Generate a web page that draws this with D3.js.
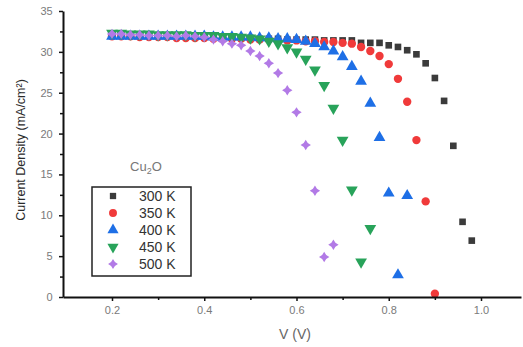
<!DOCTYPE html>
<html><head><meta charset="utf-8">
<script src="https://cdn.jsdelivr.net/npm/d3@7"></script>
<style>body{margin:0;background:#fff}svg{display:block}</style>
</head><body>
<svg id="c" width="523" height="347"></svg>
<script>
const seriesNames = ["300 K","350 K","400 K","450 K","500 K"];
const volts = [0.20,0.22,0.24,0.26,0.28,0.30,0.32,0.34,0.36,0.38,0.40,0.42,0.44,0.46,0.48,0.50,0.52,0.54,0.56,0.58,0.60,0.62,0.64,0.66,0.68,0.70,0.72,0.74,0.76,0.78,0.80,0.82,0.84,0.86,0.88,0.90,0.92,0.94,0.96,0.98];
const j300 = [32.1,32.1,32.0,32.0,32.0,31.9,31.9,31.9,31.9,31.8,31.8,31.8,31.7,31.7,31.7,31.7,31.6,31.6,31.6,31.5,31.5,31.5,31.5,31.4,31.4,31.4,31.4,31.1,31.1,31.1,30.8,30.6,30.2,29.7,28.6,26.8,24.0,18.5,9.2,6.9];
const j350 = [31.9,31.9,31.9,31.8,31.8,31.8,31.8,31.7,31.7,31.7,31.7,31.6,31.6,31.6,31.6,31.5,31.5,31.5,31.4,31.4,31.4,31.3,31.3,31.2,31.2,31.1,31.0,30.6,30.1,29.5,28.5,26.7,23.9,19.2,11.7,0.4];
const j400 = [31.9,31.9,31.9,31.9,31.9,31.9,31.9,31.9,31.9,31.9,31.9,31.8,31.8,31.8,31.8,31.8,31.7,31.7,31.6,31.6,31.5,31.3,31.0,30.6,30.1,29.4,28.2,26.4,23.7,19.5,12.7,2.7,12.4];
const j450 = [32.3,32.3,32.2,32.2,32.2,32.1,32.1,32.1,32.1,32.0,32.0,32.0,31.9,31.9,31.8,31.7,31.6,31.3,31.0,30.5,30.0,29.1,27.8,25.9,23.1,19.2,13.1,4.3,8.4];
const j500 = [32.2,32.2,32.1,32.1,32.0,32.0,32.0,31.9,32.0,31.9,31.8,31.5,31.3,31.0,30.8,30.1,29.5,28.6,27.4,25.3,22.6,18.6,13.0,4.9,6.4];
const xTicks = [0.2,0.4,0.6,0.8,1.0];
const yTicks = [0,5,10,15,20,25,30,35];

const colors = ["#3b3b3b","#f03a3a","#1e6fe6","#28a35a","#b27ae6"];
const shapes = [d3.symbolSquare, d3.symbolCircle, d3.symbolTriangle, "down", "star"];
const sizes = [44, 55, 60, 60, 70];
const allJ = [j300,j350,j400,j450,j500];

const svg = d3.select("#c");
const xBase = d3.scaleLinear().domain([0.2,1.0]).range([112,481]);
const x = d3.scaleLinear().domain([xBase.invert(63), xBase.invert(521)]).range([63,521]);
const y = d3.scaleLinear().domain([0,35]).range([297,11]);

const star4 = {draw(ctx, size){
  const r = Math.sqrt(size)*0.62, ri = r*0.55;
  for (let i=0;i<8;i++){
    const a = i*Math.PI/4 - Math.PI/2, rr = i%2 ? ri : r;
    const px = Math.cos(a)*rr, py = Math.sin(a)*rr;
    i ? ctx.lineTo(px,py) : ctx.moveTo(px,py);
  }
  ctx.closePath();
}};
function symPath(k, s){
  if (shapes[k]==="down") return d3.symbol().type(d3.symbolTriangle).size(s)();
  if (shapes[k]==="star") return d3.symbol().type(star4).size(s)();
  return d3.symbol().type(shapes[k]).size(s)();
}
function rot(k){ return shapes[k]==="down" ? " rotate(180)" : ""; }

// data
allJ.forEach((arr,k)=>{
  svg.append("g").selectAll("path").data(arr.map((v,i)=>({v:volts[i], j:v}))).join("path")
    .attr("d", symPath(k, sizes[k]))
    .attr("transform", d=>`translate(${x(d.v)},${y(d.j)})${rot(k)}`)
    .attr("fill", colors[k]);
});

// axes
const gx = svg.append("g").attr("transform","translate(0,297)")
  .call(d3.axisBottom(x).tickValues(xTicks).tickFormat(d3.format(".1f")).tickSize(4).tickSizeOuter(0));
svg.append("g").attr("transform","translate(0,297)")
  .call(d3.axisBottom(x).tickValues([0.3,0.5,0.7,0.9]).tickFormat("").tickSize(3).tickSizeOuter(0))
  .select(".domain").remove();
const gy = svg.append("g").attr("transform","translate(63,0)")
  .call(d3.axisLeft(y).tickValues(yTicks).tickSize(4).tickSizeOuter(0));
svg.append("g").attr("transform","translate(63,0)")
  .call(d3.axisLeft(y).tickValues([2.5,7.5,12.5,17.5,22.5,27.5,32.5]).tickFormat("").tickSize(3).tickSizeOuter(0))
  .select(".domain").remove();
svg.selectAll(".domain").attr("stroke","#111").attr("stroke-width",2);
svg.selectAll(".tick line").attr("stroke","#111").attr("stroke-width",1.5);
gx.selectAll("text").attr("fill","#7a7a7a").attr("font-family","Liberation Sans, Arial, sans-serif").attr("font-size",11).attr("dy","0.9em");
gy.selectAll("text").attr("fill","#7a7a7a").attr("font-family","Liberation Sans, Arial, sans-serif").attr("font-size",11).attr("dx","-0.3em");

// axis titles
svg.append("text").attr("x",295).attr("y",339).attr("text-anchor","middle")
  .attr("font-family","Liberation Sans, Arial, sans-serif").attr("font-size",14).attr("fill","#666").text("V (V)");
svg.append("text").attr("transform","translate(25,150) rotate(-90)").attr("text-anchor","middle")
  .attr("font-family","Liberation Sans, Arial, sans-serif").attr("font-size",12.5).attr("fill","#2a2a2a")
  .text("Current Density (mA/cm²)");

// Cu2O label
const lab = svg.append("text").attr("x",146).attr("y",171).attr("text-anchor","middle")
  .attr("font-family","Liberation Sans, Arial, sans-serif").attr("font-size",13).attr("fill","#777");
lab.append("tspan").text("Cu");
lab.append("tspan").attr("font-size",9).attr("dy",3).text("2");
lab.append("tspan").attr("dy",-3).text("O");

// legend
svg.append("rect").attr("x",92).attr("y",187).attr("width",99).attr("height",89)
  .attr("fill","none").attr("stroke","#222").attr("stroke-width",1.5);
seriesNames.forEach((n,k)=>{
  const ly = 196 + k*17;
  svg.append("path").attr("d", symPath(k, sizes[k]*0.9))
    .attr("transform",`translate(113,${ly})${rot(k)}`).attr("fill",colors[k]);
  svg.append("text").attr("x",139).attr("y",ly+5)
    .attr("font-family","Liberation Sans, Arial, sans-serif").attr("font-size",14).attr("fill","#333").text(n);
});
</script>
</body></html>
